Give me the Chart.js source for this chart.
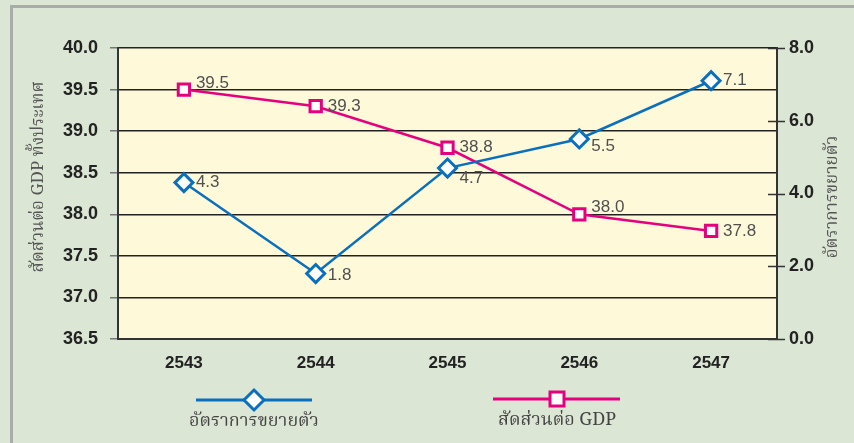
<!DOCTYPE html>
<html>
<head>
<meta charset="utf-8">
<script src="https://cdn.jsdelivr.net/npm/chart.js@4"></script>
<style>
  html, body { margin: 0; padding: 0; background: #fff; }
  #wrap { position: absolute; left: 0; top: 0; width: 854px; height: 443px; background: #dce6d4; }
  #frame { position: absolute; left: 10px; top: 5px; right: 0; bottom: 0; border-top: 3px solid #a9aca8; border-left: 3px solid #a9aca8; }
  canvas { position: absolute; left: 0; top: 0; }
</style>
</head>
<body>
<div id="wrap">
  <div id="frame"></div>
  <canvas id="gdpChart" width="854" height="443"></canvas>
</div>
<script>
const years = ["2543", "2544", "2545", "2546", "2547"];
const growthRate = [4.3, 1.8, 4.7, 5.5, 7.1];      // อัตราการขยายตัว (แกนขวา)
const gdpShare = [39.5, 39.3, 38.8, 38.0, 37.8];    // สัดส่วนต่อ GDP (แกนซ้าย)
const leftTicks = [36.5, 37.0, 37.5, 38.0, 38.5, 39.0, 39.5, 40.0];
const rightTicks = [0, 2, 4, 6, 8];

const blue = "#0a6fbd";
const pink = "#e5007e";
const boldFont = "'Liberation Sans', Arial, sans-serif";
const thaiFont = "'Norasi', 'Kinnari', 'Noto Serif Thai', 'Noto Sans Thai', 'Noto Sans', sans-serif";

// label nudges: growth points on a rising line sit below the marker
const growthLabelShift = [0, 2, 10, 7, 0];
const shareLabelShift = [-6, 0, 0, -7, 0];

const valueLabels = {
  id: 'valueLabels',
  afterDatasetsDraw(chart) {
    const ctx = chart.ctx;
    ctx.save();
    ctx.font = "17px " + boldFont;
    ctx.fillStyle = "#505050";
    ctx.textBaseline = "middle";
    ctx.textAlign = "left";
    chart.data.datasets.forEach((ds, di) => {
      const meta = chart.getDatasetMeta(di);
      const shifts = di === 0 ? growthLabelShift : shareLabelShift;
      meta.data.forEach((pt, i) => {
        ctx.fillText(ds.data[i].toFixed(1), pt.x + 12, pt.y + shifts[i]);
      });
    });
    ctx.restore();
  }
};

const extras = {
  id: 'extras',
  beforeDraw(chart) {
    const { ctx, chartArea: a } = chart;
    ctx.save();
    ctx.fillStyle = "#fef9d9";
    ctx.fillRect(a.left, a.top, a.right - a.left, a.bottom - a.top);
    ctx.restore();
  },
  afterDraw(chart) {
    const { ctx, chartArea: a } = chart;
    const yR = chart.scales.yR;
    ctx.save();
    // right ticks crossing the border
    ctx.strokeStyle = "#333";
    ctx.lineWidth = 1.5;
    rightTicks.forEach(v => {
      const y = Math.round(yR.getPixelForValue(v)) + 0.5;
      ctx.beginPath();
      ctx.moveTo(a.right - 9, y);
      ctx.lineTo(a.right + 8, y);
      ctx.stroke();
    });

    // axis titles
    ctx.fillStyle = "#555";
    ctx.font = "17px " + thaiFont;
    ctx.textAlign = "center";
    ctx.textBaseline = "middle";
    ctx.save();
    ctx.translate(40, 177);
    ctx.rotate(-Math.PI / 2);
    ctx.fillText("สัดส่วนต่อ GDP ทั้งประเทศ", 0, 0);
    ctx.restore();
    ctx.save();
    ctx.translate(834, 197);
    ctx.rotate(-Math.PI / 2);
    ctx.fillText("อัตราการขยายตัว", 0, 0);
    ctx.restore();

    // legend: line, marker, text underneath
    const items = [
      { ds: chart.data.datasets[0], x1: 196, x2: 312, cx: 254, y: 400 },
      { ds: chart.data.datasets[1], x1: 493, x2: 620, cx: 557, y: 399 }
    ];
    items.forEach(it => {
      ctx.strokeStyle = it.ds.borderColor;
      ctx.lineWidth = 3;
      ctx.beginPath();
      ctx.moveTo(it.x1, it.y);
      ctx.lineTo(it.x2, it.y);
      ctx.stroke();
      ctx.fillStyle = "#fff";
      ctx.beginPath();
      if (it.ds.pointStyle === 'rectRot') {
        const r = 10;
        ctx.moveTo(it.cx, it.y - r);
        ctx.lineTo(it.cx + r, it.y);
        ctx.lineTo(it.cx, it.y + r);
        ctx.lineTo(it.cx - r, it.y);
        ctx.closePath();
      } else {
        ctx.rect(it.cx - 7, it.y - 7, 14, 14);
      }
      ctx.fill();
      ctx.stroke();
      ctx.fillStyle = "#444";
      ctx.font = "18px " + thaiFont;
      ctx.fillText(it.ds.label, it.cx, it.y + 23);
    });
    ctx.restore();
  }
};

new Chart(document.getElementById('gdpChart'), {
  type: 'line',
  data: {
    labels: years,
    datasets: [
      {
        label: "อัตราการขยายตัว",
        data: growthRate,
        yAxisID: 'yR',
        borderColor: blue,
        borderWidth: 2.5,
        pointStyle: 'rectRot',
        pointRadius: 9,
        pointBorderWidth: 3,
        pointBackgroundColor: "#fff",
        pointBorderColor: blue,
        tension: 0
      },
      {
        label: "สัดส่วนต่อ GDP",
        data: gdpShare,
        yAxisID: 'yL',
        borderColor: pink,
        borderWidth: 2.5,
        pointStyle: 'rect',
        pointRadius: 8,
        pointBorderWidth: 3,
        pointBackgroundColor: "#fff",
        pointBorderColor: pink,
        tension: 0
      }
    ]
  },
  options: {
    responsive: false,
    animation: false,
    layout: { padding: { top: 48, bottom: 59, left: 0, right: 0 } },
    plugins: {
      legend: { display: false },
      tooltip: { enabled: false }
    },
    scales: {
      x: {
        offset: true,
        grid: { display: false },
        border: { display: true, color: "#333", width: 2 },
        ticks: { color: "#222", font: { family: boldFont, size: 17, weight: 'bold' }, padding: 6 },
        afterFit(s) { s.height = 45; }
      },
      yL: {
        position: 'left',
        min: 36.5,
        max: 40,
        afterBuildTicks(s) { s.ticks = leftTicks.map(v => ({ value: v })); },
        grid: { color: "#222", lineWidth: 1.5, tickLength: 8, tickColor: "#777" },
        border: { display: true, color: "#333", width: 2 },
        ticks: {
          color: "#222",
          padding: 12,
          font: { family: boldFont, size: 18, weight: 'bold' },
          callback: v => Number(v).toFixed(1)
        },
        afterFit(s) { s.width = 118; }
      },
      yR: {
        position: 'right',
        min: 0,
        max: 8,
        afterBuildTicks(s) { s.ticks = rightTicks.map(v => ({ value: v })); },
        grid: { drawOnChartArea: false, drawTicks: false },
        border: { display: true, color: "#333", width: 2 },
        ticks: {
          color: "#222",
          padding: 12,
          font: { family: boldFont, size: 18, weight: 'bold' },
          callback: v => Number(v).toFixed(1)
        },
        afterFit(s) { s.width = 77; }
      }
    }
  },
  plugins: [extras, valueLabels]
});
</script>
</body>
</html>
